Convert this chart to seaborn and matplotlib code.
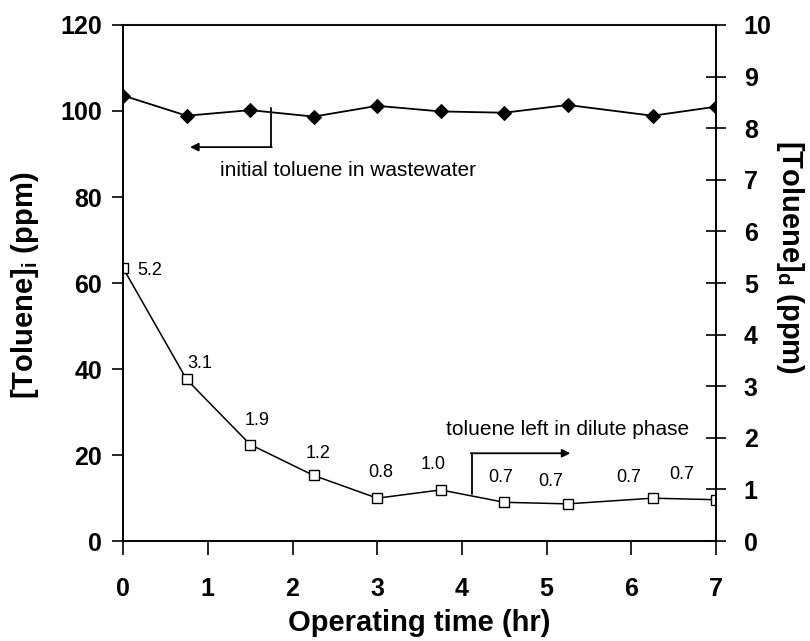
import matplotlib
matplotlib.use("Agg")
import matplotlib.pyplot as plt
import seaborn as sns
import pandas as pd

# ---- data ----
time_hr = [0, 0.75, 1.5, 2.25, 3.0, 3.75, 4.5, 5.25, 6.25, 7.0]
toluene_initial = [103.6, 98.9, 100.2, 98.7, 101.2, 99.9, 99.6, 101.4, 98.9, 101.0]
toluene_dilute = [5.29, 3.13, 1.87, 1.27, 0.83, 0.99, 0.75, 0.72, 0.83, 0.80]
dilute_labels = ["5.2", "3.1", "1.9", "1.2", "0.8", "1.0", "0.7", "0.7", "0.7", "0.7"]
x_ticks = [0, 1, 2, 3, 4, 5, 6, 7]
left_ticks = [0, 20, 40, 60, 80, 100, 120]
right_ticks = list(range(0, 11))

# label placement (offsets from points, data units)
label_dx = [0.32, 0.15, 0.08, 0.05, 0.04, -0.09, -0.04, -0.20, -0.28, -0.40]
label_dy = [-0.05, 0.31, 0.46, 0.42, 0.50, 0.50, 0.48, 0.43, 0.40, 0.48]

sns.set_style("white")
plt.rcParams["font.family"] = ["Liberation Sans", "DejaVu Sans"]
plt.rcParams["text.color"] = "black"
plt.rcParams["axes.labelcolor"] = "black"
plt.rcParams["xtick.color"] = "black"
plt.rcParams["ytick.color"] = "black"
narrow = ["Liberation Sans Narrow", "Liberation Sans", "DejaVu Sans"]

df = pd.DataFrame({"t": time_hr, "ini": toluene_initial, "dil": toluene_dilute})

fig = plt.figure(figsize=(8.10, 6.41), dpi=100)
ax = fig.add_axes([0.152, 0.156, 0.732, 0.805])
ax2 = ax.twinx()

sns.lineplot(data=df, x="t", y="ini", ax=ax, color="black", marker="D",
             markersize=7, markerfacecolor="black", markeredgecolor="black",
             linewidth=1.3)
sns.lineplot(data=df, x="t", y="dil", ax=ax2, color="black", marker="s",
             markersize=7.5, markerfacecolor="white", markeredgecolor="black",
             markeredgewidth=1.0, linewidth=1.1)

ax.set_xlim(0, 7)
ax.set_ylim(0, 120)
ax2.set_ylim(0, 10)
ax.set_xticks(x_ticks)
ax.set_yticks(left_ticks)
ax2.set_yticks(right_ticks)

for a in (ax, ax2):
    for s in a.spines.values():
        s.set_color("black")
        s.set_linewidth(1.2)
ax2.spines["top"].set_color("#555555")
ax2.spines["top"].set_linewidth(1.5)

ax.tick_params(axis="x", direction="out", length=10, width=1.2, pad=16,
               labelsize=18, bottom=True, colors="black")
ax.tick_params(axis="y", direction="out", length=8, width=1.2, pad=7,
               labelsize=18, left=True, colors="black")
ax2.tick_params(axis="y", direction="inout", length=14, width=1.2, pad=13,
                labelsize=18, right=True, colors="black")
for lab in ax.get_xticklabels() + ax.get_yticklabels() + ax2.get_yticklabels():
    lab.set_fontweight("bold")

ax.set_xlabel("Operating time (hr)", fontsize=21, fontweight="bold", labelpad=6,
              color="black")
ax.set_ylabel(r"[Toluene]$_\mathregular{i}$ (ppm)", fontsize=21, fontweight="bold",
              va="center", ha="center", color="black")
ax.yaxis.set_label_coords(-0.166, 0.495)
ax2.set_ylabel(r"[Toluene]$_\mathregular{d}$ (ppm)", fontsize=21, fontweight="bold",
               rotation=-90, va="center", ha="center", rotation_mode="default",
               color="black")
ax2.yaxis.set_label_coords(1.125, 0.55)

# data labels
for xv, yv, txt, dx, dy in zip(time_hr, toluene_dilute, dilute_labels, label_dx, label_dy):
    ax2.text(xv + dx, yv + dy, txt, fontsize=13, family=narrow,
             ha="center", va="center", color="black")

# annotations
ax.text(2.66, 86.2, "initial toluene in wastewater", fontsize=15, family=narrow,
        ha="center", va="center", color="black")
ax.plot([1.74, 1.74], [100.6, 91.6], color="black", linewidth=1.3)
ax.annotate("", xy=(0.79, 91.6), xytext=(1.755, 91.6),
            arrowprops=dict(arrowstyle="-|>", color="black", lw=1.3,
                            mutation_scale=12, shrinkA=0, shrinkB=0))

ax2.text(5.25, 2.17, "toluene left in dilute phase", fontsize=15, family=narrow,
         ha="center", va="center", color="black")
ax2.plot([4.12, 4.12], [0.91, 1.70], color="black", linewidth=1.3)
ax2.annotate("", xy=(5.28, 1.70), xytext=(4.105, 1.70),
             arrowprops=dict(arrowstyle="-|>", color="black", lw=1.3,
                             mutation_scale=12, shrinkA=0, shrinkB=0))

ax.set_zorder(ax2.get_zorder() + 1)
ax.patch.set_visible(False)

fig.savefig("out.png", dpi=100)
